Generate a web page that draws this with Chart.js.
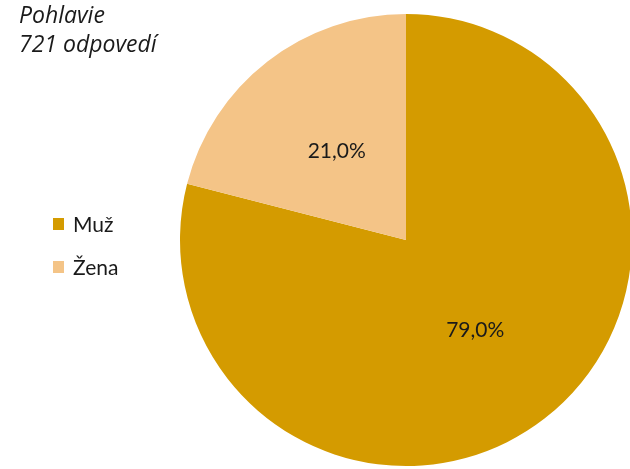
<!DOCTYPE html>
<html>
<head>
<meta charset="utf-8">
<script src="https://cdn.jsdelivr.net/npm/chart.js@4"></script>
<style>
  html, body { margin: 0; padding: 0; background: #fff; overflow: hidden; }
  #wrap { position: relative; width: 634px; height: 469px; }
  #title {
    position: absolute; left: 19px; top: 0px;
    font: italic 23px "Open Sans", sans-serif; line-height: 29px; color: #1a1a1a;
  }
  #legend { position: absolute; left: 53px; top: 202px; font: 21px Lato, sans-serif; color: #1a1a1a; }
  .item { display: flex; align-items: center; height: 43px; }
  .sw { width: 11px; height: 12px; margin-right: 9px; }
</style>
</head>
<body>
<div id="wrap">
  <canvas id="chart-gender"></canvas>
  <div id="title">Pohlavie<br>721 odpovedí</div>
  <div id="legend"></div>
</div>
<script>
// Pie: gender split of respondents
const LABELS = ['Muž', 'Žena'];
const VALUES = [79.0, 21.0];
const COLORS = ['#D49B00', '#F4C487'];

// ── Legend (HTML, built from the arrays) ─────────────────────────────────────
const legendEl = document.getElementById('legend');
LABELS.forEach((lab, i) => {
  const row = document.createElement('div');
  row.className = 'item';
  row.innerHTML = `<span class="sw" style="background:${COLORS[i]}"></span>${lab}`;
  legendEl.appendChild(row);
});

// ── Percent labels at half radius ────────────────────────────────────────────
const sliceLabels = {
  id: 'sliceLabels',
  afterDatasetsDraw(chart) {
    const { ctx } = chart;
    const meta = chart.getDatasetMeta(0);
    ctx.save();
    ctx.font = '21px Lato, sans-serif';
    ctx.fillStyle = '#1a1a1a';
    ctx.textAlign = 'center';
    ctx.textBaseline = 'middle';
    meta.data.forEach((arc, i) => {
      const mid = (arc.startAngle + arc.endAngle) / 2;
      const r = arc.outerRadius * 0.5;
      const x = arc.x + Math.cos(mid) * r;
      const y = arc.y + Math.sin(mid) * r;
      ctx.fillText(VALUES[i].toFixed(1).replace('.', ',') + '%', x, y + 1);
    });
    ctx.restore();
  }
};

const canvas = document.getElementById('chart-gender');
canvas.width = 634;
canvas.height = 469;

new Chart(canvas.getContext('2d'), {
  type: 'pie',
  data: {
    labels: LABELS,
    datasets: [{
      data: VALUES,
      backgroundColor: COLORS,
      borderWidth: 0,
      hoverOffset: 0
    }]
  },
  options: {
    responsive: false,
    animation: false,
    layout: { padding: { left: 180, right: 2, top: 14, bottom: 3 } },
    plugins: {
      legend: { display: false },
      tooltip: { enabled: false }
    }
  },
  plugins: [sliceLabels]
});
</script>
</body>
</html>
